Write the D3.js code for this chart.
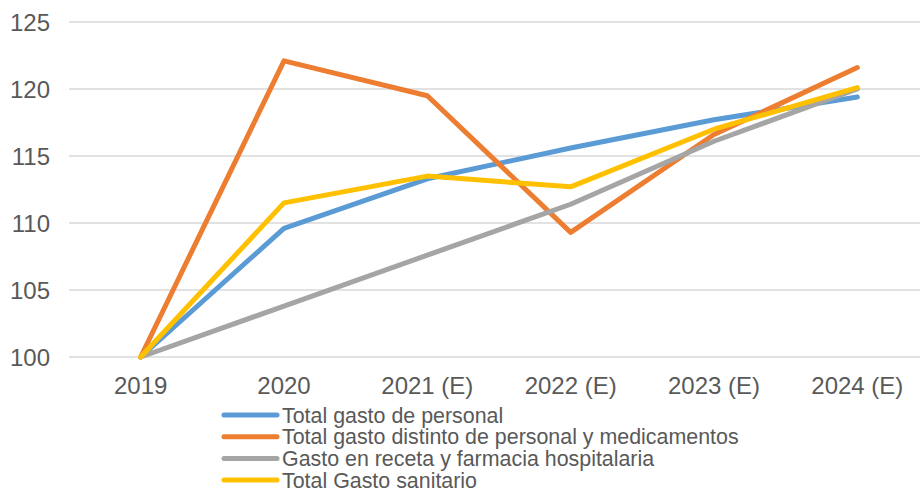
<!DOCTYPE html>
<html>
<head>
<meta charset="utf-8">
<script src="https://cdn.jsdelivr.net/npm/d3@7"></script>
<style>
  body { margin: 0; background: #fff; }
  text { font-family: "Liberation Sans", Arial, sans-serif; fill: #595959; }
</style>
</head>
<body>
<div id="chart-container"></div>
<script>
const W = 920;
const H = 488;

// categories and tick values
const years = ["2019", "2020", "2021 (E)", "2022 (E)", "2023 (E)", "2024 (E)"];
const yTicks = [100, 105, 110, 115, 120, 125];

// series values, index 2019 = 100
const personal = [100, 109.6, 113.3, 115.6, 117.7, 119.4];
const noPersonal = [100, 122.1, 119.5, 109.3, 116.6, 121.6];
const receta = [100, 103.8, 107.6, 111.4, 116.1, 120.0];
const sanitario = [100, 111.5, 113.5, 112.7, 117.0, 120.1];

const seriesNames = [
  "Total gasto de personal",
  "Total gasto distinto de personal y medicamentos",
  "Gasto en receta y farmacia hospitalaria",
  "Total Gasto sanitario",
];
const seriesColors = ["#5B9BD5", "#ED7D31", "#A5A5A5", "#FFC000"];

const series = [personal, noPersonal, receta, sanitario].map((values, i) => ({
  name: seriesNames[i],
  color: seriesColors[i],
  values: values,
}));

const plot = { left: 69, right: 929, top: 22, bottom: 357 };

const x = d3.scaleBand().domain(years).range([plot.left, plot.right]);
const y = d3.scaleLinear().domain([100, 125]).range([plot.bottom, plot.top]);

const svg = d3
  .select("#chart-container")
  .append("svg")
  .attr("width", W)
  .attr("height", H);

// gridlines
svg
  .append("g")
  .selectAll("line")
  .data(yTicks)
  .enter()
  .append("line")
  .attr("x1", plot.left)
  .attr("x2", plot.right)
  .attr("y1", (d) => y(d))
  .attr("y2", (d) => y(d))
  .attr("stroke", "#D9D9D9")
  .attr("stroke-width", 1.3);

// y axis labels
svg
  .append("g")
  .selectAll("text")
  .data(yTicks)
  .enter()
  .append("text")
  .attr("x", 50)
  .attr("y", (d) => y(d) + 8.5)
  .attr("text-anchor", "end")
  .style("font-size", "24px")
  .text((d) => d);

// x axis labels
svg
  .append("g")
  .selectAll("text")
  .data(years)
  .enter()
  .append("text")
  .attr("x", (d) => x(d) + x.bandwidth() / 2)
  .attr("y", 394)
  .attr("text-anchor", "middle")
  .style("font-size", "24px")
  .text((d) => d);

const line = d3
  .line()
  .x((d, i) => x(years[i]) + x.bandwidth() / 2)
  .y((d) => y(d));

svg
  .append("g")
  .selectAll("path")
  .data(series)
  .enter()
  .append("path")
  .attr("fill", "none")
  .attr("stroke", (d) => d.color)
  .attr("stroke-width", 5)
  .attr("stroke-linejoin", "round")
  .attr("stroke-linecap", "round")
  .attr("d", (d) => line(d.values));

// legend
const legend = svg
  .append("g")
  .selectAll("g")
  .data(series)
  .enter()
  .append("g")
  .attr("transform", (d, i) => `translate(224, ${415 + i * 21.7})`);

legend
  .append("line")
  .attr("x1", 0)
  .attr("x2", 53)
  .attr("stroke", (d) => d.color)
  .attr("stroke-width", 5)
  .attr("stroke-linecap", "round");

legend
  .append("text")
  .attr("x", 58)
  .attr("y", 7.5)
  .style("font-size", "21.4px")
  .text((d) => d.name);
</script>
</body>
</html>
